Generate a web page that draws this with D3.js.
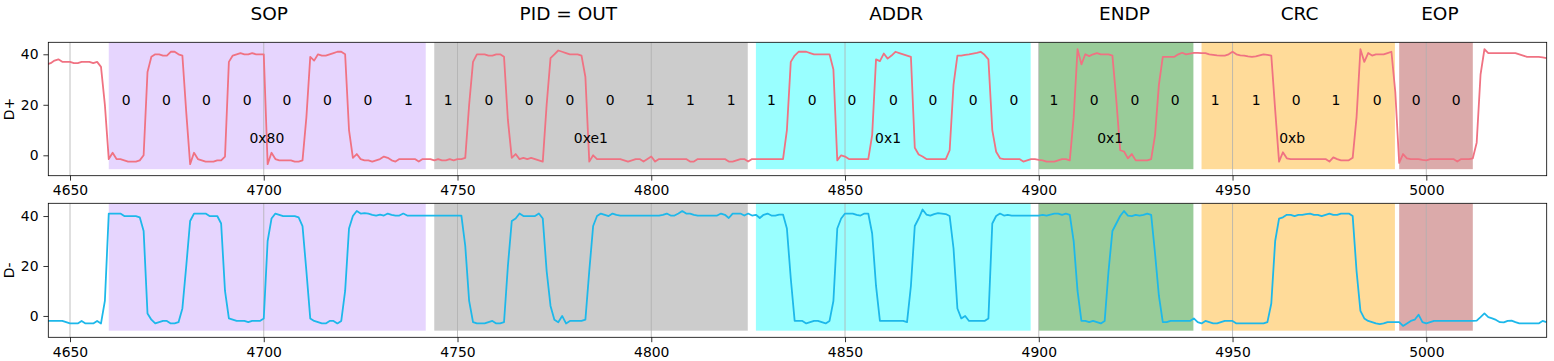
<!DOCTYPE html>
<html>
<head>
<meta charset="utf-8">
<script src="https://cdn.jsdelivr.net/npm/d3@7"></script>
<style>
  body { margin: 0; background: #fff; }
  text { font-family: "DejaVu Sans", sans-serif; }
</style>
</head>
<body>
<div id="root"></div>
<script>
// samples start at this index, one value per sample
const sampleStart = 4644;

const dPlus = [
  36, 36.5, 37.5, 38, 37, 37, 37, 36.5, 36.5, 37,
  37, 37, 36.5, 37, 35, 20, -1.5, 1, -1.5, -1.5,
  -2, -2.5, -2.5, -2.5, -2, 0, 33, 39, 40, 40,
  39.5, 39.5, 41, 41, 40, 39.5, 17, -3.5, 1, -1.5,
  -2, -2.5, -2.5, -2.5, -2, -2, -0.5, 37, 39.5, 40,
  40.5, 40, 40, 40.5, 40, 40, 40, -3.5, 1, -1.5,
  -2, -2, -2, -2, -2.5, -2.5, -2, 15, 39, 37.5,
  40, 39.5, 39.5, 40, 40.5, 41, 41, 40, 10, -1,
  0.5, -1.5, -2, -2, -2.5, -2, -1.5, -0.5, -1, -2,
  -2.5, -1.5, -1.5, -1.5, -1.5, -1.5, -2.5, -1.5, -1.5, -1.5,
  -2, -1.5, -2, -2, -1.5, -2, -1.5, -1.5, -1, 20,
  37, 40, 40, 40, 39.5, 39.5, 40, 40, 39, 14,
  -1, 0.5, -1.5, -1, -1.5, -1, -1.5, -2, -2.5, 20,
  38.5, 40, 41.5, 41, 40.5, 40, 40, 40, 39.5, 31,
  -2.5, 0, -1.5, -1.5, -1.5, -1.5, -1.5, -1.5, -1.5, -2,
  -2.5, -2, -1.5, -1.5, -2.5, -1.5, -0.5, -2.5, -1.5, -1.5,
  -1.5, -1.5, -1.5, -1.5, -1.5, -1.5, -2.5, -2.5, -1.5, -1.5,
  -1.5, -1.5, -1.5, -1.5, -1.5, -1.5, -2.5, -2.5, -2, -1.5,
  -1.5, -2.5, -1.5, -1.5, -1.5, -1.5, -1.5, -1.5, -1.5, -1.5,
  -1.5, 10, 37, 39.5, 41, 41, 41, 40.5, 40, 40, 40,
  40, 40, 34, -2, 0, -0.5, -1.5, -1.5, -1.5, -1.5,
  -1.5, -1.5, 8, 38, 37.3, 40.3, 38.3, 39.5, 41, 40.5,
  40, 39.5, 39, 3, 0.3, -0.5, -1.5, -1.5, -1.5, -1.5,
  -1.5, -1.5, 2, 28, 39.5, 39.5, 39.8, 40, 40.3, 40.6,
  41, 39.8, 38, 10, 1.4, -1.2, -1.5, -1.5, -1.5, -1.5,
  -1.5, -2.5, -2, -1.5, -1.5, -1.8, -2, -2.5, -2.5, -2.5,
  -2, -1.5, -1.5, -2, 15, 42, 36, 40, 39.3, 40,
  40.5, 40, 40, 40, 39.5, 22, 2, 1.5, -1.2, 0.5,
  -2, -2, -2, -2, -1.5, 8, 28, 39, 39, 39,
  39, 40, 40.6, 40, 40.3, 40.6, 40.6, 40.5, 40.5, 40,
  39.8, 39.6, 39.5, 39.5, 40, 41, 40, 39.6, 39.5, 39.2,
  39, 39.2, 39.6, 40, 39.8, 39.5, 18, -2.5, 1.2, -1.2,
  -1.5, -1.5, -1.5, -1.5, -1.5, -1.5, -1.5, -1.5, -1.5, -1.5,
  -2.5, -0.8, -1.5, -2, -2, -2, -1, 15, 42, 37,
  40.5, 39.5, 40, 40, 40, 40.5, 41, 25, -3, 0.5,
  -1.2, -1.5, -1.5, -1.5, -1.8, -2, -1.5, -1.5, -1.5, -1.5,
  -1.5, -1.5, -1.5, -2.5, -1.5, -1.5, -1.5, -1.2, 5, 32,
  42, 40.5, 40.5, 40.5, 40.5, 40.5, 40.5, 40.5, 40.5, 40,
  39.5, 39, 39, 39, 39, 38.8, 38.5
];

const dMinus = [
  -2, -2, -2, -2, -2, -2.5, -3, -3, -3, -2,
  -3, -3, -3, -2, -3, 6, 41, 41, 41, 41,
  40, 40, 40, 40, 39.5, 34, 1, -1.5, -3, -2.5,
  -2, -2, -3, -3, -2.5, 3, 20, 38, 41, 41,
  41, 41, 40, 40, 40, 37, 10, -1, -1.5, -2,
  -2, -2, -2.5, -2, -2, -2, -1, 30, 39, 41,
  40.5, 40, 40, 40, 40, 39.5, 36, 18, -1, -2,
  -2.5, -3, -3, -2, -2, -3, -2, 10, 35, 40,
  42, 41, 41.2, 41, 40.5, 40.2, 40.6, 40.2, 41, 40.5,
  40.2, 40.2, 41, 40.2, 40.2, 40.2, 40.2, 40.2, 40.2, 40.2,
  40.2, 40.2, 40.2, 40.2, 40.2, 40.2, 40.2, 40.2, 28, 6,
  -2.5, -3, -3, -3, -2.5, -2, -3, -3, -2.5, 20,
  38, 39, 41, 40, 40, 40, 40, 41, 39, 18,
  4, -1.5, -2.5, 0, -3, -2, -2, -2, -2, -1.5,
  18, 36, 40, 41, 40.5, 40, 41, 40.5, 40.2, 40.2,
  40.2, 40.2, 40.2, 40.2, 40.2, 40.2, 40.2, 40.2, 40.2, 40.5,
  41, 40.2, 40.2, 41, 42, 41, 41, 40.5, 40.2, 40.2,
  40.2, 40.2, 40.2, 40.2, 41, 40.5, 39.2, 41, 41, 41,
  40.2, 41, 40.2, 40.5, 39.2, 40.5, 41, 40.2, 40.2, 40.6,
  40.6, 35, 15, -2, -2, -2, -3, -2.5, -2, -2, -2.5,
  -3, -2, 6, 35, 39, 41, 41, 41, 40.5, 40.2,
  41, 41, 33, 12, -2, -2, -2, -2, -2, -2,
  -2, -2.5, 12, 36, 39, 42.6, 40.6, 40.2, 40.8, 41.2,
  41, 40.8, 40, 27, 3, -1, 0, -2, -2, -2,
  -2, -2, -1, 37, 40, 41, 40.2, 40.5, 40.2, 40.2,
  40.2, 40.2, 40.2, 40.2, 40.2, 40.2, 40.5, 40.2, 40.6, 41,
  41, 40.5, 41, 40.5, 30, 10, -2, -2, -2.5, -2,
  -2.5, -3, -2, 18, 34, 37, 40, 42, 40.2, 40,
  40.5, 40.2, 40.5, 41, 40.5, 25, 8, -2.5, -2.5, -2,
  -2, -2, -2, -2, -2, -1, -2.5, -3, -2, -2.5,
  -3, -3, -2.5, -2, -2, -2, -3, -3, -3, -3,
  -3, -3, -3, -3, -2.5, 5, 30, 39, 39.5, 40.5,
  40.5, 40, 40.5, 40.5, 40.8, 41, 40.5, 40.5, 40, 40.5,
  41, 40.5, 40.5, 41, 41, 41, 40, 18, 2, -1,
  -2, -2.5, -3, -3.3, -3, -2.5, -2.5, -2.5, -2.5, -4,
  -3, -2, -1.5, 0.5, -2.5, -3, -2.5, -2, -2, -2,
  -2, -2, -2, -2, -2, -2, -2, -2, -1.9, -0.5,
  1, -0.5, -1, -1.6, -2.5, -2.6, -2, -1.9, -2.5, -3,
  -3, -3, -3, -3, -3, -2, -2.5
];

// packet fields
const fieldNames = ["SOP", "PID = OUT", "ADDR", "ENDP", "CRC", "EOP"];
const fieldStart = [4660, 4744, 4827, 4900, 4942, 4993];
const fieldEnd = [4741.8, 4824.9, 4897.9, 4939.9, 4991.9, 5012];
const fieldColors = ["#e6d5fe", "#cccccc", "#99ffff", "#99cc99", "#ffdb99", "#dbaaaa"];
const titleX = [4701.4, 4778.6, 4863.2, 4922.1, 4967.3, 5003.5];

// decoded bits
const bits = ["0","0","0","0","0","0","0","1",
              "1","0","0","0","0","1","1","1",
              "1","0","0","0","0","0","0",
              "1","0","0","0",
              "1","1","0","1","0",
              "0","0"];
const bitX = [4664.5, 4674.9, 4685.2, 4695.7, 4706.0, 4716.4, 4726.9, 4737.3,
              4747.6, 4758.1, 4768.5, 4779.0, 4789.4, 4799.7, 4810.1, 4820.6,
              4831.0, 4841.5, 4851.8, 4862.5, 4872.7, 4883.1, 4893.6,
              4903.9, 4914.3, 4924.8, 4935.2,
              4945.5, 4956.1, 4966.4, 4976.7, 4987.3,
              4997.4, 5007.7];
const bitY = 20;

const hexLabels = ["0x80", "0xe1", "0x1", "0x1", "0xb"];
const hexX = [4700.8, 4784.4, 4861.1, 4918.4, 4965.4];
const hexY = 5;

const xTicks = [4650, 4700, 4750, 4800, 4850, 4900, 4950, 5000];
const yTicks = [0, 20, 40];

const W = 1554, H = 361;
const left = 48.3, right = 1546.7;
const tickFont = 13.9;

const svg = d3.select("#root").append("svg")
  .attr("width", W)
  .attr("height", H);

const x = d3.scaleLinear().domain([4644.4, 5031.07]).range([left, right]);

const panels = [
  {name: "D+", values: dPlus, color: "#f07282", top: 42.3, bottom: 175.7, yDomain: [-8.08, 44.75], spanLow: -5.5, labels: true},
  {name: "D-", values: dMinus, color: "#1db8ea", top: 203.3, bottom: 337.3, yDomain: [-8.55, 45.1], spanLow: -5.9, labels: false}
];

panels.forEach(function(p, k) {
  const y = d3.scaleLinear().domain(p.yDomain).range([p.bottom, p.top]);

  svg.append("clipPath").attr("id", "clip" + k)
    .append("rect")
      .attr("x", left).attr("y", p.top)
      .attr("width", right - left).attr("height", p.bottom - p.top);

  const plot = svg.append("g").attr("clip-path", "url(#clip" + k + ")");

  plot.selectAll(".span")
    .data(fieldStart)
    .enter().append("rect")
      .attr("class", "span")
      .attr("x", function(d) { return x(d); })
      .attr("width", function(d, i) { return x(fieldEnd[i]) - x(d); })
      .attr("y", y(p.yDomain[1]))
      .attr("height", y(p.spanLow) - y(p.yDomain[1]))
      .attr("fill", function(d, i) { return fieldColors[i]; });

  plot.selectAll(".grid")
    .data(xTicks)
    .enter().append("line")
      .attr("class", "grid")
      .attr("x1", function(d) { return x(d); })
      .attr("x2", function(d) { return x(d); })
      .attr("y1", p.top).attr("y2", p.bottom)
      .attr("stroke", "#b0b0b0")
      .attr("stroke-width", 0.8);

  const line = d3.line()
    .x(function(d, i) { return x(sampleStart + i); })
    .y(function(d) { return y(d); });

  plot.append("path")
    .datum(p.values)
    .attr("d", line)
    .attr("fill", "none")
    .attr("stroke", p.color)
    .attr("stroke-width", 1.8)
    .attr("stroke-linejoin", "round");

  if (p.labels) {
    svg.selectAll(".bit")
      .data(bits)
      .enter().append("text")
        .attr("class", "bit")
        .attr("x", function(d, i) { return x(bitX[i]); })
        .attr("y", y(bitY))
        .attr("text-anchor", "middle")
        .attr("font-size", tickFont)
        .text(function(d) { return d; });

    svg.selectAll(".hex")
      .data(hexLabels)
      .enter().append("text")
        .attr("class", "hex")
        .attr("x", function(d, i) { return x(hexX[i]); })
        .attr("y", y(hexY))
        .attr("text-anchor", "middle")
        .attr("font-size", tickFont)
        .text(function(d) { return d; });
  }

  // spine box
  svg.append("rect")
    .attr("x", left).attr("y", p.top)
    .attr("width", right - left).attr("height", p.bottom - p.top)
    .attr("fill", "none")
    .attr("stroke", "#000")
    .attr("stroke-width", 0.8);

  const gx = svg.append("g")
    .attr("transform", "translate(0," + p.bottom + ")")
    .call(d3.axisBottom(x).tickValues(xTicks).tickFormat(d3.format("d")).tickSize(4.9).tickPadding(4.9));
  const gy = svg.append("g")
    .attr("transform", "translate(" + left + ",0)")
    .call(d3.axisLeft(y).tickValues(yTicks).tickSize(4.9).tickPadding(4.9));

  [gx, gy].forEach(function(a) {
    a.select(".domain").remove();
    a.selectAll("line").attr("stroke", "#000").attr("stroke-width", 0.8);
    a.selectAll("text")
      .attr("font-size", tickFont)
      .attr("font-family", "DejaVu Sans, sans-serif")
      .attr("fill", "#000");
  });

  svg.append("text")
    .attr("transform", "translate(13.5," + ((p.top + p.bottom) / 2) + ") rotate(-90)")
    .attr("text-anchor", "middle")
    .attr("font-size", tickFont)
    .text(p.name);
});

svg.selectAll(".title")
  .data(fieldNames)
  .enter().append("text")
    .attr("class", "title")
    .attr("x", function(d, i) { return x(titleX[i]); })
    .attr("y", 19.5)
    .attr("text-anchor", "middle")
    .attr("font-size", 18.5)
    .text(function(d) { return d; });
</script>
</body>
</html>
